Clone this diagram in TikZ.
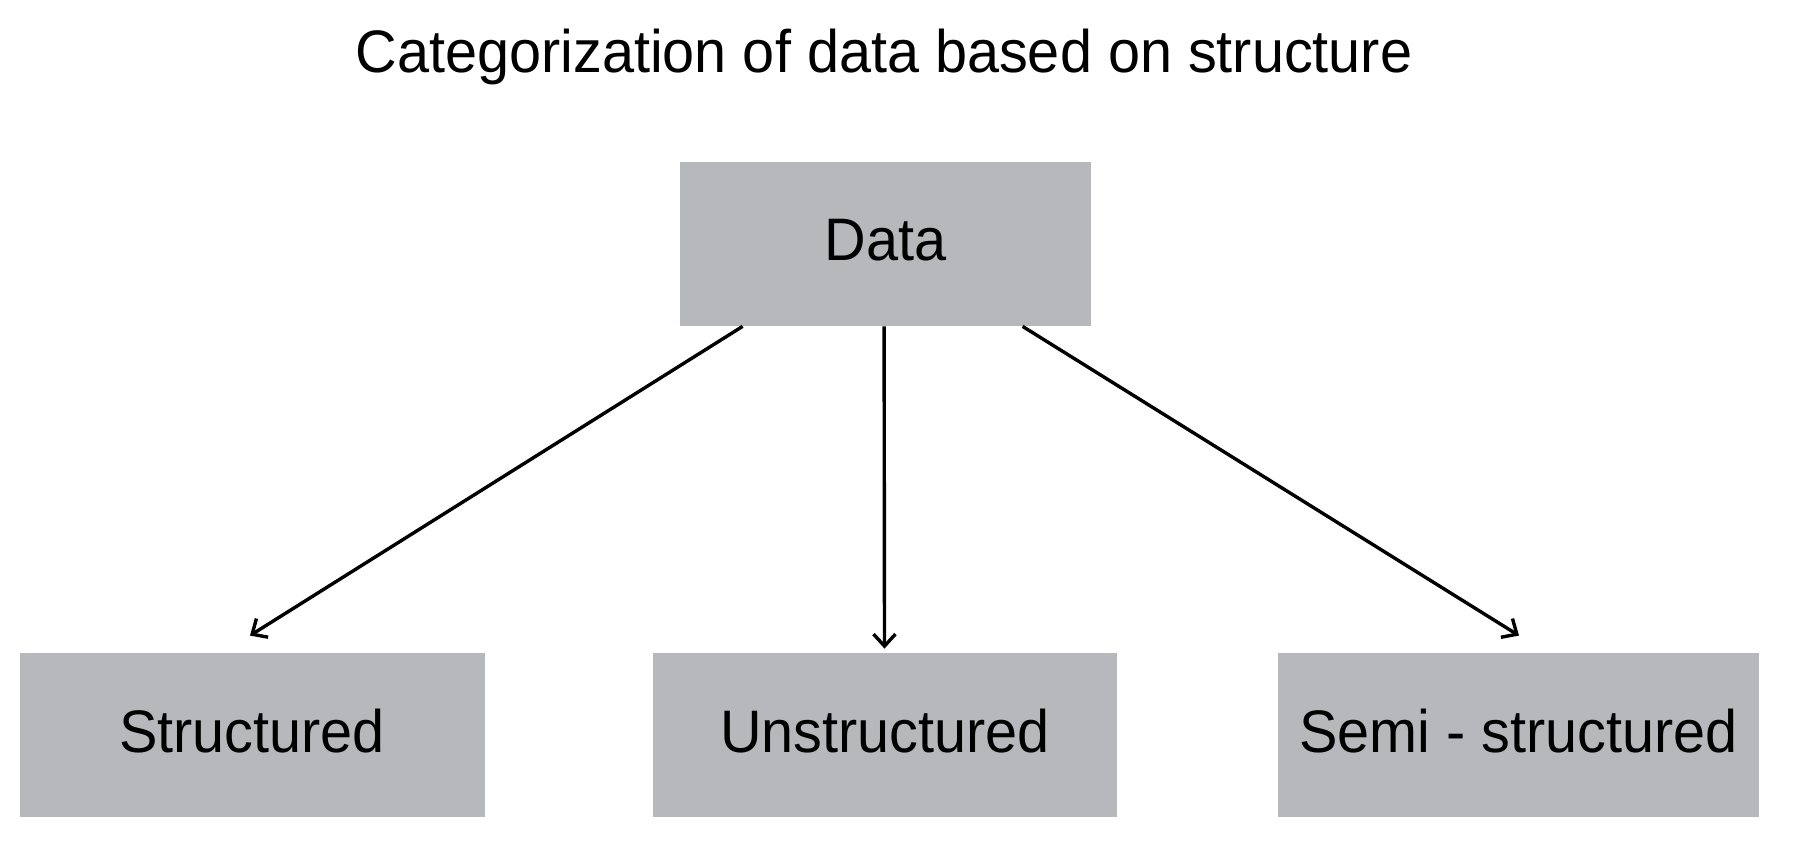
\documentclass[tikz,border=0pt]{standalone}
\usepackage{fontspec}
\setmainfont{Liberation Sans}[FakeStretch=0.96]
\usetikzlibrary{arrows.meta,calc}
\definecolor{boxgray}{HTML}{B7B8BB}
\begin{document}
\begin{tikzpicture}[x=0.5pt,y=-0.5pt,
  catbox/.style={fill=boxgray,draw=none,minimum width=#1*0.5pt,minimum height=164*0.5pt,inner sep=0pt,text height=21.5pt,text depth=4.5pt,font=\fontsize{30}{36}\selectfont},
  conn/.style={line width=1.7pt,-{Straight Barb[length=6pt,width=11pt,line width=1.7pt]}}]
\useasboundingbox (0,0) rectangle (1796,845);
\node[font=\fontsize{30}{36}\selectfont] (title) at (884,57) {Categorization of data based on structure};
\node[catbox=411] (data) at (885.5,244) {Data};
\node[catbox=465] (s) at (252,735) {Structured};
\node[catbox=464] (u) at (885,735) {Unstructured};
\node[catbox=481] (m) at (1518.5,735) {Semi - structured};
\draw[conn] ($(data.south west)+(63,0)$) -- ($(s.north)+(-2,-17)$);
\draw[conn] ($(data.south west)+(204.5,0)$) -- ($(u.north)+(-0.5,-4)$);
\draw[conn] ($(data.south west)+(343,0)$) -- ($(m.north)+(0.5,-17)$);
\end{tikzpicture}
\end{document}
